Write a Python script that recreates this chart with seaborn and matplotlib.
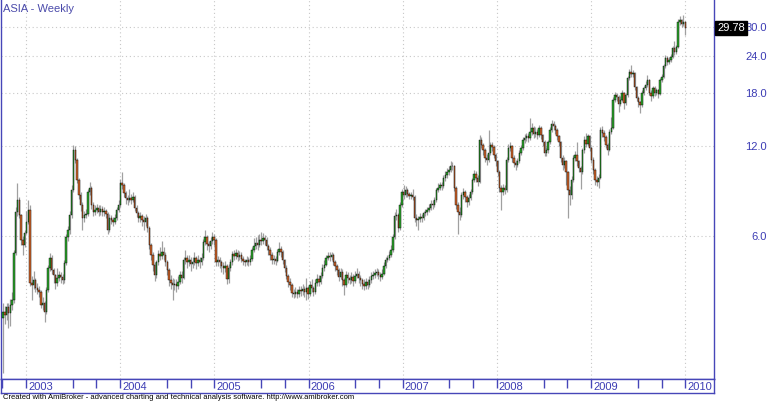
import numpy as np
import pandas as pd
import matplotlib
matplotlib.use("Agg")
import matplotlib.pyplot as plt
import matplotlib.dates as mdates
from matplotlib.ticker import NullLocator
import seaborn as sns

title = "ASIA - Weekly"
footer = "Created with AmiBroker - advanced charting and technical analysis software. http://www.amibroker.com"
first_week = "2002-10-04"
first_open = 3.20

closes = [
    3.35, 3.27, 3.48, 3.32, 3.53, 3.67, 5.27, 7.2, 7.9, 7.05,
    5.82, 5.6, 6.15, 6.7, 7.33, 4.18, 4.12, 4.28, 4.02, 3.96,
    3.9, 3.53, 3.6, 3.35, 3.96, 4.69, 5.07, 4.62, 4.45, 4.2,
    4.35, 4.45, 4.38, 4.28, 4.87, 5.95, 6.28, 7.05, 8.55, 11.6,
    10.8, 9.23, 8.23, 7.62, 6.9, 7.05, 7.1, 8.4, 8.7, 7.62,
    7.2, 7.33, 7.45, 7.2, 7.4, 7.2, 7.25, 7.1, 6.3, 6.9,
    6.8, 6.7, 6.9, 7.33, 7.62, 9.0, 8.88, 8.35, 8.05, 7.91,
    8.05, 7.91, 8.1, 7.45, 7.15, 6.9, 7.0, 6.8, 6.7, 6.9,
    6.4, 5.6, 5.19, 4.8, 4.45, 4.9, 5.22, 5.15, 5.3, 5.19,
    4.9, 4.62, 4.28, 4.18, 4.12, 4.15, 4.09, 4.22, 4.45, 4.35,
    4.99, 5.07, 4.9, 4.99, 4.84, 4.9, 5.07, 4.87, 4.99, 4.9,
    5.07, 5.73, 5.95, 5.65, 5.55, 5.78, 5.95, 5.82, 4.9, 4.99,
    4.9, 4.76, 4.7, 4.76, 4.3, 4.7, 4.9, 5.22, 5.15, 5.27,
    5.11, 5.19, 5.03, 4.95, 4.9, 4.99, 4.9, 5.03, 5.39, 5.55,
    5.68, 5.6, 5.82, 5.78, 5.9, 5.82, 5.55, 5.39, 5.19, 4.99,
    5.03, 4.95, 5.3, 5.43, 5.3, 4.99, 4.7, 4.42, 4.22, 4.12,
    3.87, 3.84, 3.9, 3.84, 3.96, 3.93, 3.99, 3.9, 4.02, 3.84,
    4.12, 4.02, 3.9, 4.18, 4.3, 4.22, 4.42, 4.7, 4.8, 5.07,
    5.15, 5.11, 5.19, 4.9, 4.76, 4.62, 4.38, 4.55, 4.28, 4.12,
    4.45, 4.35, 4.28, 4.38, 4.25, 4.42, 4.5, 4.35, 4.28, 4.15,
    4.09, 4.22, 4.12, 4.28, 4.42, 4.45, 4.52, 4.55, 4.45, 4.38,
    4.5, 4.76, 4.99, 5.07, 5.19, 5.39, 5.95, 7.0, 7.05, 6.4,
    7.62, 8.4, 8.23, 8.55, 8.3, 8.17, 8.23, 8.1, 6.9, 6.8,
    6.85, 6.95, 6.9, 7.15, 7.2, 7.33, 7.45, 7.7, 7.62, 7.91,
    8.55, 8.7, 8.88, 8.8, 9.4, 9.6, 9.85, 10.0, 10.25, 10.3,
    8.7, 7.62, 7.2, 7.05, 8.23, 8.4, 8.1, 7.8, 8.05, 8.4,
    9.23, 9.7, 9.4, 9.1, 12.6, 12.1, 11.6, 10.95, 10.8, 11.4,
    12.1, 11.9, 11.2, 10.65, 9.85, 8.7, 8.4, 8.7, 8.55, 10.8,
    11.8, 12.0, 10.95, 10.55, 10.4, 10.65, 11.4, 11.8, 12.6, 12.8,
    12.95, 12.8, 13.4, 13.8, 13.2, 13.4, 13.05, 13.8, 13.05, 12.4,
    11.4, 11.6, 12.4, 13.6, 14.2, 14.0, 13.6, 12.95, 12.4, 10.95,
    10.4, 10.65, 9.85, 8.55, 8.23, 9.23, 10.95, 11.2, 10.65, 10.15,
    9.85, 11.6, 12.6, 12.2, 12.95, 11.8, 10.8, 10.0, 9.23, 9.1,
    9.4, 13.6, 13.3, 12.9, 12.1, 11.6, 13.4, 13.8, 17.1, 17.7,
    17.5, 16.6, 17.1, 18.0, 16.65, 17.7, 20.2, 21.2, 20.9, 21.0,
    18.9, 17.3, 16.8, 16.4, 18.1, 18.7, 19.2, 19.9, 18.1, 17.6,
    18.7, 18.0, 18.4, 17.85, 19.9, 20.4, 22.2, 23.6, 22.9, 23.2,
    23.8, 25.5, 24.7, 25.7, 31.2, 31.6, 30.6, 31.2, 29.78,
]

highs = [
    3.6, 3.5, 3.6, 3.6, 3.7, 3.9, 5.4, 7.5, 9.0, 8.1,
    7.1, 6.0, 6.3, 7.3, 7.9, 7.6, 4.4, 4.6, 4.35, 4.2,
    4.1, 3.95, 3.75, 3.65, 4.05, 4.8, 5.25, 5.2, 4.7, 4.5,
    4.7, 4.6, 4.55, 4.5, 5.0, 6.1, 6.5, 7.3, 8.9, 12.1,
    12.0, 10.9, 9.4, 8.4, 7.8, 7.3, 7.4, 8.6, 9.1, 8.8,
    7.8, 7.6, 7.7, 7.6, 7.65, 7.55, 7.5, 7.4, 7.2, 7.1,
    7.05, 6.95, 7.1, 7.5, 7.9, 9.3, 9.8, 9.0, 8.5, 8.2,
    8.6, 8.3, 8.4, 8.2, 7.6, 7.3, 7.2, 7.1, 7.0, 7.1,
    7.0, 6.5, 5.7, 5.3, 4.9, 5.0, 5.4, 5.5, 5.8, 5.5,
    5.3, 5.0, 4.7, 4.45, 4.35, 4.3, 4.3, 4.4, 4.6, 4.6,
    5.1, 5.4, 5.2, 5.2, 5.1, 5.1, 5.3, 5.15, 5.2, 5.1,
    5.25, 5.85, 6.3, 6.05, 5.8, 5.95, 6.2, 6.1, 5.9, 5.15,
    5.1, 5.0, 4.9, 4.95, 4.85, 4.85, 5.05, 5.35, 5.4, 5.45,
    5.4, 5.35, 5.3, 5.15, 5.05, 5.15, 5.1, 5.2, 5.5, 5.9,
    5.95, 6.05, 6.1, 6.2, 6.15, 6.05, 5.95, 5.65, 5.5, 5.3,
    5.2, 5.15, 5.45, 5.75, 5.55, 5.4, 5.05, 4.8, 4.5, 4.35,
    4.2, 4.0, 4.05, 4.0, 4.1, 4.08, 4.15, 4.1, 4.35, 4.1,
    4.25, 4.3, 4.1, 4.3, 4.5, 4.45, 4.55, 4.85, 5.0, 5.2,
    5.3, 5.3, 5.3, 5.25, 5.0, 4.85, 4.7, 4.7, 4.65, 4.35,
    4.6, 4.55, 4.45, 4.55, 4.5, 4.6, 4.7, 4.6, 4.45, 4.35,
    4.3, 4.35, 4.3, 4.4, 4.55, 4.6, 4.65, 4.7, 4.65, 4.55,
    4.65, 4.9, 5.1, 5.2, 5.35, 5.6, 6.1, 7.2, 7.4, 7.15,
    7.8, 8.6, 8.9, 8.8, 8.7, 8.45, 8.45, 8.6, 8.2, 7.1,
    7.0, 7.15, 7.1, 7.3, 7.4, 7.5, 7.7, 7.9, 7.9, 8.1,
    8.7, 9.0, 9.1, 9.1, 9.6, 9.9, 10.1, 10.3, 10.7, 10.6,
    10.4, 8.8, 7.8, 7.5, 8.4, 8.7, 8.55, 8.2, 8.3, 8.6,
    9.4, 10.0, 9.9, 9.6, 13.05, 12.9, 12.3, 11.8, 11.3, 13.6,
    12.4, 12.4, 12.1, 11.4, 10.8, 10.0, 8.9, 8.95, 8.9, 11.0,
    12.2, 12.4, 12.1, 11.2, 10.8, 10.9, 11.6, 12.1, 12.9, 13.2,
    13.3, 13.3, 14.9, 14.3, 14.0, 13.9, 13.7, 14.1, 14.0, 13.2,
    12.6, 11.9, 12.6, 13.9, 14.6, 14.5, 14.2, 13.8, 13.1, 12.5,
    11.2, 11.0, 10.8, 9.9, 8.8, 9.5, 11.2, 11.5, 12.4, 10.8,
    10.3, 11.8, 13.0, 13.3, 13.2, 13.1, 12.0, 11.0, 10.1, 9.5,
    9.7, 13.9, 14.0, 13.6, 13.1, 12.3, 13.7, 15.0, 17.5, 18.2,
    18.1, 17.7, 17.6, 18.4, 18.2, 18.0, 20.6, 21.7, 22.3, 21.6,
    21.2, 19.1, 17.6, 17.0, 18.4, 19.1, 19.7, 20.7, 20.1, 18.4,
    19.0, 19.0, 18.8, 18.6, 20.2, 20.9, 22.6, 24.2, 23.9, 23.7,
    24.3, 25.9, 26.8, 26.1, 31.8, 32.6, 31.9, 32.8, 31.4,
]

lows = [
    2.09, 3.05, 3.15, 2.95, 3.0, 3.4, 3.6, 5.2, 7.0, 6.9,
    5.6, 5.2, 5.5, 6.1, 6.6, 4.1, 3.67, 4.0, 3.9, 3.85,
    3.75, 3.45, 3.4, 3.1, 3.3, 3.9, 4.6, 4.5, 4.2, 4.0,
    4.1, 4.25, 4.2, 4.15, 4.2, 4.8, 5.8, 6.1, 6.9, 8.4,
    10.5, 9.0, 8.0, 7.3, 6.28, 6.7, 6.9, 7.0, 8.2, 7.4,
    7.0, 7.05, 7.15, 7.0, 7.05, 7.0, 7.0, 6.9, 6.1, 6.2,
    6.6, 6.5, 6.6, 6.8, 7.2, 7.5, 8.6, 8.1, 7.7, 7.6,
    7.8, 7.7, 7.8, 7.3, 6.95, 6.7, 6.7, 6.5, 6.28, 6.5,
    6.2, 5.45, 5.0, 4.6, 4.25, 4.35, 4.8, 5.0, 5.05, 5.0,
    4.75, 4.45, 4.1, 4.0, 3.67, 3.95, 3.9, 4.0, 4.15, 4.2,
    4.3, 4.85, 4.7, 4.75, 4.6, 4.7, 4.8, 4.65, 4.75, 4.7,
    4.8, 5.0, 5.6, 5.4, 5.3, 5.45, 5.65, 5.6, 4.75, 4.75,
    4.7, 4.55, 4.5, 4.55, 4.15, 4.2, 4.6, 4.8, 5.0, 5.05,
    4.95, 5.0, 4.9, 4.8, 4.75, 4.8, 4.75, 4.8, 4.95, 5.3,
    5.45, 5.4, 5.5, 5.6, 5.65, 5.6, 5.4, 5.2, 5.0, 4.85,
    4.85, 4.8, 4.9, 5.2, 5.1, 4.85, 4.55, 4.3, 4.05, 3.95,
    3.75, 3.72, 3.75, 3.72, 3.75, 3.8, 3.82, 3.75, 3.67, 3.7,
    3.78, 3.9, 3.78, 3.85, 4.1, 4.1, 4.15, 4.35, 4.6, 4.75,
    5.0, 4.95, 5.0, 4.8, 4.6, 4.45, 4.25, 4.3, 4.1, 3.81,
    4.05, 4.2, 4.15, 4.2, 4.1, 4.2, 4.35, 4.2, 4.1, 4.0,
    3.95, 4.0, 4.0, 4.05, 4.2, 4.3, 4.35, 4.4, 4.3, 4.25,
    4.3, 4.45, 4.7, 4.9, 5.0, 5.1, 5.3, 5.85, 6.8, 6.2,
    6.3, 7.5, 8.0, 8.1, 8.1, 8.0, 8.0, 7.95, 6.7, 6.5,
    6.28, 6.7, 6.7, 6.8, 7.0, 7.05, 7.2, 7.35, 7.4, 7.5,
    7.8, 8.4, 8.55, 8.55, 8.7, 9.2, 9.4, 9.6, 9.8, 10.0,
    8.5, 7.4, 6.1, 6.8, 6.95, 8.0, 7.8, 7.5, 7.6, 7.9,
    8.3, 9.1, 9.1, 8.8, 9.0, 11.8, 11.2, 10.6, 10.4, 10.6,
    11.2, 11.5, 10.9, 10.3, 9.5, 8.4, 7.33, 8.2, 8.3, 8.4,
    10.6, 11.5, 10.6, 10.2, 10.0, 10.2, 10.5, 11.2, 11.6, 12.3,
    12.5, 12.4, 12.6, 13.1, 12.8, 12.9, 12.7, 12.9, 12.7, 12.0,
    11.1, 11.1, 11.4, 12.2, 13.4, 13.6, 13.2, 12.6, 12.0, 10.6,
    10.0, 10.1, 8.9, 6.9, 7.6, 8.0, 9.1, 10.7, 10.3, 9.8,
    8.6, 9.7, 11.4, 11.9, 12.0, 11.5, 10.5, 9.7, 8.9, 8.8,
    8.7, 9.3, 12.9, 12.5, 11.8, 11.2, 11.5, 13.2, 13.7, 16.8,
    16.9, 15.6, 16.3, 16.9, 15.9, 16.4, 17.5, 19.9, 20.4, 20.4,
    18.5, 16.9, 16.2, 15.5, 16.2, 17.8, 18.4, 18.9, 17.7, 17.0,
    17.3, 17.6, 17.7, 17.4, 17.7, 19.6, 20.2, 21.9, 22.4, 22.5,
    22.9, 23.6, 24.2, 24.4, 25.5, 30.5, 30.0, 30.2, 28.2,
]

y_ticks = [6.0, 12.0, 18.0, 24.0, 30.0]
year_labels = [2003, 2004, 2005, 2006, 2007, 2008, 2009, 2010]
minor_months = [7, 10]
last_label = "29.78"

BLUE = "#4646b8"
TXT_BLUE = "#3c3cb4"
UP = "#2ea82e"
DOWN = "#d2662a"

sns.set_theme(style="white")
plt.rcParams["font.family"] = ["Liberation Sans", "DejaVu Sans"]

dates = pd.date_range(first_week, periods=len(closes), freq="7D")
df = pd.DataFrame({"date": dates, "close": closes, "high": highs, "low": lows})
df["open"] = [first_open] + closes[:-1]
df["x"] = mdates.date2num(df["date"])
df["top"] = df[["open", "close"]].max(axis=1)
df["bot"] = df[["open", "close"]].min(axis=1)
df["high"] = np.maximum(df["high"], df["top"])
df["low"] = np.minimum(df["low"], df["bot"])
df["up"] = df["close"] >= df["open"]

fig = plt.figure(figsize=(7.7, 4.03), dpi=100)
fig.patch.set_facecolor("white")
ax = fig.add_axes([1 / 770, 24 / 403, 713 / 770, 379 / 403])
ax.set_facecolor("white")
ax.grid(False)
ax.set_yscale("log")
ax.set_ylim(2.0, 36.86)
x0 = mdates.date2num(pd.Timestamp(first_week))
ax.set_xlim(x0 - 7.76, x0 + 2757.3)

# grid
for v in y_ticks:
    ax.axhline(v, color="#c8c8c8", lw=0.8, ls=(0, (1, 2.5)), zorder=0)
for yr in year_labels:
    ax.axvline(mdates.date2num(pd.Timestamp(f"{yr}-01-01")), color="#c8c8c8",
               lw=0.8, ls=(0, (1, 2.5)), zorder=0)

# wicks
ax.vlines(df["x"], df["low"], df["high"], color="#a0a0a0", lw=0.9, zorder=2)
# bodies
ax.bar(df["x"], df["top"] - df["bot"], bottom=df["bot"], width=5.4,
       color=np.where(df["up"], UP, DOWN), edgecolor="black", linewidth=0.3,
       zorder=3)

ax.spines["top"].set_visible(False)
for s in ["left", "right", "bottom"]:
    ax.spines[s].set_color(BLUE)
    ax.spines[s].set_linewidth(1.0)

ax.set_xticks([])
ax.yaxis.tick_right()
ax.yaxis.set_minor_locator(NullLocator())
ax.set_yticks(y_ticks)
ax.set_yticklabels([f"{v:.1f}" for v in y_ticks])
ax.tick_params(axis="y", length=0, pad=38, labelsize=8, labelcolor=TXT_BLUE)
for lbl in ax.get_yticklabels():
    lbl.set_horizontalalignment("right")

ax.annotate(last_label, xy=(1, closes[-1]), xycoords=("axes fraction", "data"),
            xytext=(2.4, 0), textcoords="offset points", ha="left", va="center",
            fontsize=8, color="white", annotation_clip=False, zorder=10,
            bbox=dict(boxstyle="square,pad=0.2", fc="black", ec="black"))

# date strip
ax2 = fig.add_axes([1 / 770, 10 / 403, 713 / 770, 14 / 403])
ax2.set_facecolor("white")
ax2.grid(False)
ax2.set_xlim(ax.get_xlim())
ax2.set_ylim(0, 1)
ax2.set_yticks([])
tick_pos = [mdates.date2num(pd.Timestamp("2002-10-01"))]
for yr in year_labels:
    tick_pos.append(mdates.date2num(pd.Timestamp(f"{yr}-01-01")))
    if yr < 2010:
        for m in minor_months:
            tick_pos.append(mdates.date2num(pd.Timestamp(f"{yr}-{m:02d}-01")))
ax2.set_xticks(sorted(tick_pos))
ax2.xaxis.tick_top()
ax2.tick_params(axis="x", direction="in", length=6.5, width=1.0, color=BLUE,
                labeltop=False, labelbottom=False)
for s in ax2.spines.values():
    s.set_color(BLUE)
    s.set_linewidth(1.0)
for yr in year_labels:
    ax2.annotate(str(yr), xy=(mdates.date2num(pd.Timestamp(f"{yr}-01-01")), 0.45),
                 xycoords=("data", "axes fraction"), xytext=(1.5, 0),
                 textcoords="offset points", ha="left", va="center",
                 fontsize=8, color=TXT_BLUE)

fig.text(3 / 770, 1 - 9 / 403, title, fontsize=8, color="#4a4aaa",
         ha="left", va="center")
fig.text(3 / 770, 1 - 397.5 / 403, footer, fontsize=5.5, color="black",
         ha="left", va="center")

fig.savefig("out.png", dpi=100, facecolor="white")
